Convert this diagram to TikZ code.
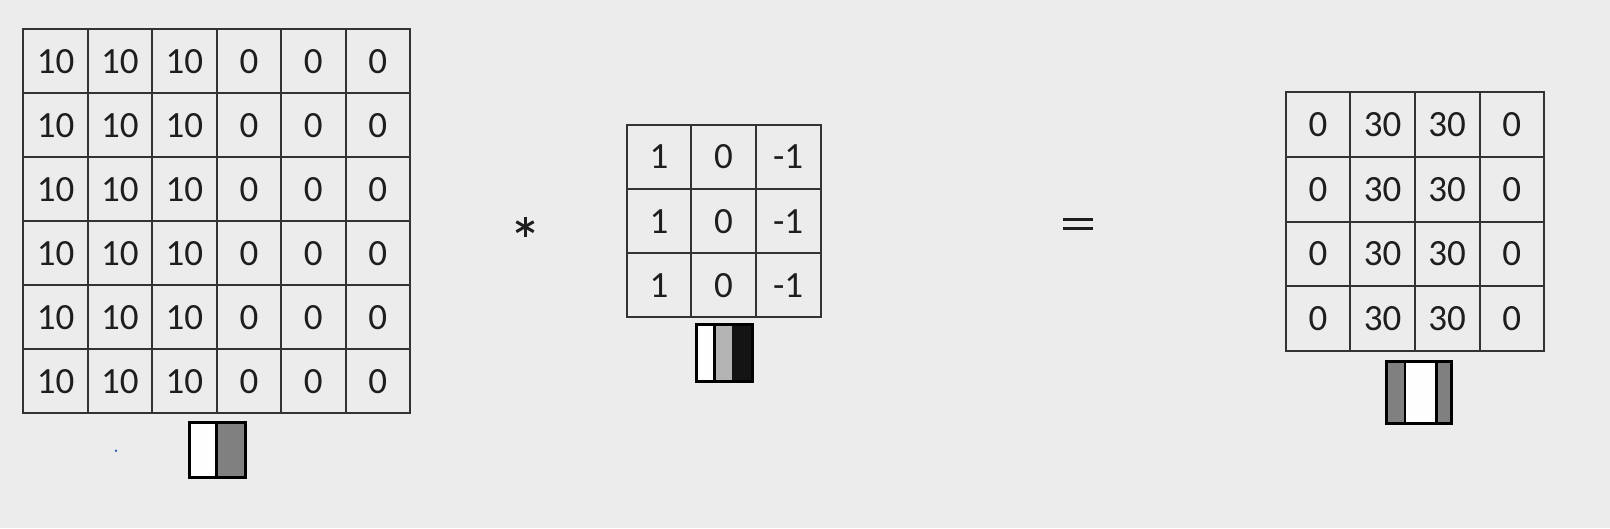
\documentclass[tikz,border=0pt]{standalone}
\usepackage{fontspec}
\setmainfont{Carlito}
\usetikzlibrary{calc}
\definecolor{bg}{HTML}{ECECEC}
\definecolor{gridline}{HTML}{333333}
\definecolor{txt}{HTML}{1E1E1E}
\definecolor{midgray}{HTML}{808080}
\definecolor{lightgray2}{HTML}{B4B4B4}
\definecolor{dotblue}{HTML}{3060B0}
\tikzset{
  cell/.style={inner sep=0pt, text=txt, font=\fontsize{37}{37}\selectfont},
  gridlines/.style={draw=gridline, line width=2pt, line cap=rect},
  iconframe/.style={draw=black, line width=3pt},
  opline/.style={draw=txt, line width=3pt},
}
\begin{document}
\begin{tikzpicture}[x=1pt,y=-1pt]
\useasboundingbox (0,0) rectangle (1610,528);
\fill[bg] (0,0) rectangle (1610,528);
% input 6x6
\foreach \i in {0,...,6}{
  \draw[gridlines] ({23.3+64.45*\i},29.3) -- ({23.3+64.45*\i},413.3);
  \draw[gridlines] (23.3,{29.3+64*\i}) -- (410,{29.3+64*\i});
}
\foreach \r in {1,...,6}{
  \foreach \c/\v in {1/10,2/10,3/10,4/0,5/0,6/0}{
    \node[cell] (in-\r-\c) at ({23.3+64.45*(\c-0.5)},{29.3+64*(\r-0.5)}) {\v};
  }
}
% filter 3x3
\foreach \i in {0,...,3}{
  \draw[gridlines] ({626.7+64.6*\i},125) -- ({626.7+64.6*\i},317.3);
  \draw[gridlines] (626.7,{125+64.1*\i}) -- (820.5,{125+64.1*\i});
}
\foreach \r in {1,...,3}{
  \foreach \c/\v in {1/1,2/0,3/-1}{
    \node[cell] (f-\r-\c) at ({626.7+64.6*(\c-0.5)},{125+64.1*(\r-0.5)}) {\v};
  }
}
% output 4x4
\foreach \i in {0,...,4}{
  \draw[gridlines] ({1285.7+64.6*\i},92.3) -- ({1285.7+64.6*\i},350.7);
  \draw[gridlines] (1285.7,{92.3+64.6*\i}) -- (1544.1,{92.3+64.6*\i});
}
\foreach \r in {1,...,4}{
  \foreach \c/\v in {1/0,2/30,3/30,4/0}{
    \node[cell] (o-\r-\c) at ({1285.7+64.6*(\c-0.5)},{92.3+64.6*(\r-0.5)}) {\v};
  }
}
% operators
\coordinate (star) at (525,226.7);
\draw[opline] ($(star)+(0,-10)$) -- ($(star)+(0,10)$);
\draw[opline] ($(star)+(-8.7,-5)$) -- ($(star)+(8.7,5)$);
\draw[opline] ($(star)+(-8.7,5)$) -- ($(star)+(8.7,-5)$);
\coordinate (eq) at (1078,223.7);
\draw[opline] ($(eq)+(-15,-4.7)$) -- ($(eq)+(15,-4.7)$);
\draw[opline] ($(eq)+(-15,4.7)$) -- ($(eq)+(15,4.7)$);
% input icon
\fill[white!96!bg] (189,422.7) rectangle (216.7,477.3);
\fill[midgray] (216.7,422.7) rectangle (245,477.3);
\draw[black, line width=3pt] (216.7,422.7) -- (216.7,477.3);
\draw[iconframe] (189,422.7) rectangle (245,477.3);
% filter icon
\fill[white!96!bg] (696.7,324.3) rectangle (714.5,381.7);
\fill[lightgray2] (714.5,324.3) rectangle (732,381.7);
\fill[black!92] (732,324.3) rectangle (752.3,381.7);
\draw[black, line width=2.5pt] (714.5,324.3) -- (714.5,381.7);
\draw[iconframe] (696.7,324.3) rectangle (752.3,381.7);
% output icon
\fill[midgray] (1386.7,361) rectangle (1405,423.3);
\fill[white!96!bg] (1405,361) rectangle (1436.7,423.3);
\fill[midgray] (1436.7,361) rectangle (1451.7,423.3);
\draw[black, line width=2.5pt] (1405,361) -- (1405,423.3) (1436.7,361) -- (1436.7,423.3);
\draw[iconframe] (1386.7,361) rectangle (1451.7,423.3);
% stray dot
\fill[dotblue] (116,450.7) circle (1.3);
\end{tikzpicture}
\end{document}
